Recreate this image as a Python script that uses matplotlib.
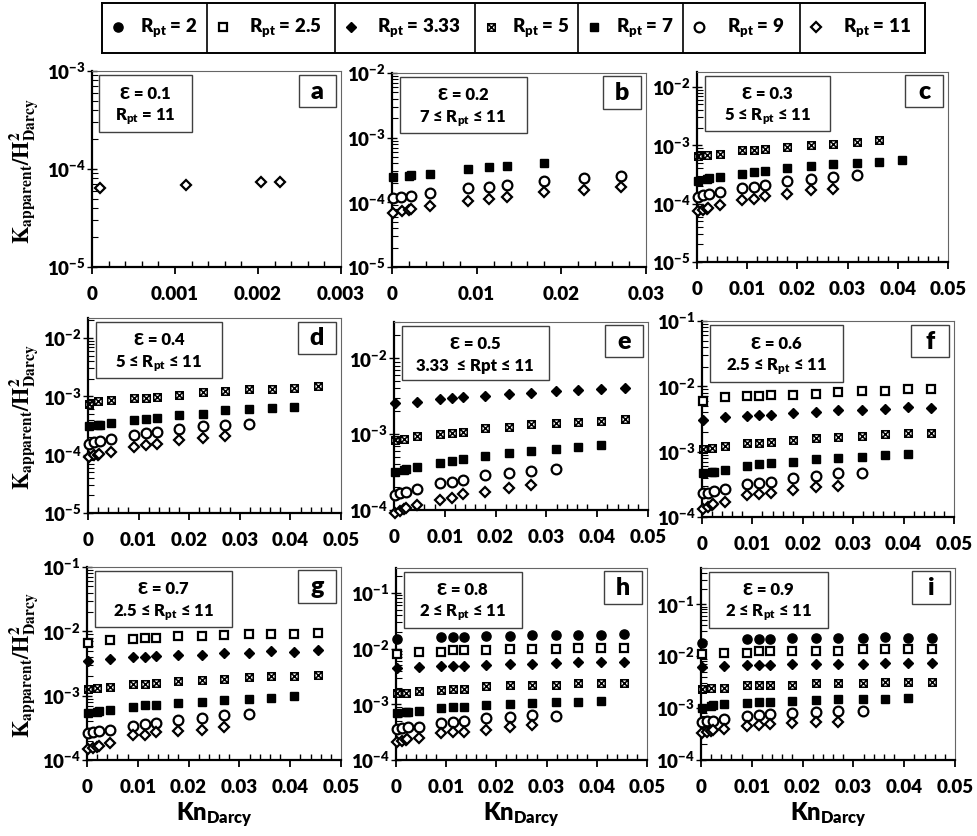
import matplotlib
matplotlib.use("Agg")
import numpy as np
import matplotlib.pyplot as plt
from matplotlib import ticker
from matplotlib.path import Path
from matplotlib.patches import Rectangle

plt.rcParams['font.family'] = ['Lato', 'DejaVu Sans']
plt.rcParams['font.weight'] = 'heavy'
plt.rcParams['mathtext.fontset'] = 'custom'
plt.rcParams['mathtext.rm'] = 'Lato:heavy'
plt.rcParams['mathtext.bf'] = 'Lato:heavy'
plt.rcParams['mathtext.it'] = 'Lato:heavy'
plt.rcParams['mathtext.fallback'] = 'stixsans'

# Kn_Darcy de cada serie (R_pt)
kn_r2 = [0.0001, 0.009, 0.0114, 0.0136, 0.018, 0.0227, 0.027, 0.0318, 0.0363, 0.0408, 0.0454]
kn_r25 = [0.0001, 0.0045, 0.009, 0.0114, 0.0136, 0.018, 0.0227, 0.027, 0.0318, 0.0363, 0.0408, 0.0454]
kn_r333 = [0.0001, 0.0045, 0.009, 0.0114, 0.0136, 0.018, 0.0227, 0.027, 0.0318, 0.0363, 0.0408, 0.0454]
kn_r5 = [0.0001, 0.002, 0.0045, 0.009, 0.0114, 0.0136, 0.018, 0.0227, 0.027, 0.0318, 0.0363, 0.0408, 0.0454]
kn_r7 = [0.0001, 0.002, 0.0023, 0.0045, 0.009, 0.0114, 0.0136, 0.018, 0.0227, 0.027, 0.0318, 0.0363, 0.0408]
kn_r9 = [0.0001, 0.0011, 0.0023, 0.0045, 0.009, 0.0114, 0.0136, 0.018, 0.0227, 0.027, 0.0318]
kn_r11 = [0.0001, 0.00113, 0.00204, 0.00227, 0.0045, 0.009, 0.0114, 0.0136, 0.018, 0.0227, 0.027]

# K_apparent / H^2 por panel
a_r11 = [6.4e-5, 6.8e-5, 7.3e-5, 7.3e-5]

b_r7 = [2.44e-4, 2.55e-4, 2.65e-4, 2.77e-4, 3.27e-4, 3.56e-4, 3.69e-4, 4.1e-4]
b_r9 = [1.15e-4, 1.22e-4, 1.27e-4, 1.38e-4, 1.69e-4, 1.75e-4, 1.85e-4, 2.14e-4, 2.35e-4, 2.55e-4]
b_r11 = [6.8e-5, 7.3e-5, 7.6e-5, 7.8e-5, 8.9e-5, 1.06e-4, 1.13e-4, 1.22e-4, 1.43e-4, 1.55e-4, 1.71e-4]

c_r5 = [6.6e-4, 6.8e-4, 7.2e-4, 8.2e-4, 8.4e-4, 8.8e-4, 9.4e-4, 1.01e-3, 1.07e-3, 1.14e-3, 1.22e-3]
c_r7 = [2.45e-4, 2.68e-4, 2.75e-4, 2.86e-4, 3.27e-4, 3.44e-4, 3.63e-4, 4.03e-4, 4.42e-4, 4.72e-4, 5.04e-4, 5.25e-4, 5.53e-4]
c_r9 = [1.30e-4, 1.39e-4, 1.45e-4, 1.58e-4, 1.86e-4, 1.93e-4, 2.12e-4, 2.42e-4, 2.68e-4, 2.86e-4, 3.06e-4]
c_r11 = [7.5e-5, 7.9e-5, 8.2e-5, 8.4e-5, 9.6e-5, 1.14e-4, 1.22e-4, 1.34e-4, 1.48e-4, 1.69e-4, 1.81e-4]

d_r5 = [7.5e-4, 8.2e-4, 8.5e-4, 9.4e-4, 9.4e-4, 9.7e-4, 1.07e-3, 1.19e-3, 1.23e-3, 1.32e-3, 1.35e-3, 1.41e-3, 1.48e-3]
d_r7 = [3.06e-4, 3.18e-4, 3.27e-4, 3.49e-4, 3.98e-4, 4.14e-4, 4.31e-4, 4.72e-4, 5.04e-4, 5.75e-4, 6.15e-4, 6.4e-4, 6.57e-4]
d_r9 = [1.55e-4, 1.65e-4, 1.71e-4, 1.83e-4, 2.14e-4, 2.35e-4, 2.45e-4, 2.79e-4, 3.06e-4, 3.27e-4, 3.4e-4]
d_r11 = [9.1e-5, 9.7e-5, 1.0e-4, 1.04e-4, 1.11e-4, 1.35e-4, 1.45e-4, 1.55e-4, 1.76e-4, 1.93e-4, 2.06e-4]

e_r333 = [2.54e-3, 2.67e-3, 2.86e-3, 2.95e-3, 3.11e-3, 3.2e-3, 3.37e-3, 3.51e-3, 3.69e-3, 3.8e-3, 3.92e-3, 4.08e-3]
e_r5 = [8.3e-4, 8.5e-4, 9.4e-4, 1.0e-3, 1.04e-3, 1.07e-3, 1.19e-3, 1.25e-3, 1.34e-3, 1.38e-3, 1.43e-3, 1.48e-3, 1.56e-3]
e_r7 = [3.18e-4, 3.35e-4, 3.45e-4, 3.7e-4, 4.19e-4, 4.45e-4, 4.63e-4, 5.17e-4, 5.56e-4, 5.97e-4, 6.28e-4, 6.81e-4, 7.16e-4]
e_r9 = [1.58e-4, 1.66e-4, 1.75e-4, 1.87e-4, 2.25e-4, 2.32e-4, 2.49e-4, 2.9e-4, 3.11e-4, 3.3e-4, 3.47e-4]
e_r11 = [9.2e-5, 9.8e-5, 1.02e-4, 1.05e-4, 1.16e-4, 1.36e-4, 1.43e-4, 1.63e-4, 1.75e-4, 1.93e-4, 2.14e-4]

f_r25 = [5.87e-3, 6.85e-3, 7.02e-3, 7.02e-3, 7.28e-3, 7.28e-3, 7.62e-3, 8.09e-3, 8.58e-3, 8.58e-3, 9.1e-3, 9.1e-3]
f_r333 = [3.07e-3, 3.45e-3, 3.54e-3, 3.67e-3, 3.67e-3, 3.89e-3, 4.08e-3, 4.27e-3, 4.38e-3, 4.53e-3, 4.75e-3, 4.64e-3]
f_r5 = [1.09e-3, 1.15e-3, 1.22e-3, 1.34e-3, 1.37e-3, 1.43e-3, 1.51e-3, 1.6e-3, 1.7e-3, 1.76e-3, 1.85e-3, 1.91e-3, 1.91e-3]
f_r7 = [4.64e-4, 4.92e-4, 4.92e-4, 5.22e-4, 6.02e-4, 6.38e-4, 6.62e-4, 7.02e-4, 7.62e-4, 7.89e-4, 8.37e-4, 8.89e-4, 9.1e-4]
f_r9 = [2.29e-4, 2.37e-4, 2.48e-4, 2.73e-4, 3.18e-4, 3.34e-4, 3.46e-4, 3.89e-4, 4.22e-4, 4.64e-4, 4.75e-4]
f_r11 = [1.34e-4, 1.43e-4, 1.51e-4, 1.57e-4, 1.70e-4, 2.15e-4, 2.23e-4, 2.34e-4, 2.57e-4, 2.9e-4, 2.97e-4]

g_r25 = [6.68e-3, 7.28e-3, 7.73e-3, 7.92e-3, 7.92e-3, 8.41e-3, 8.41e-3, 8.73e-3, 9.04e-3, 9.04e-3, 9.04e-3, 9.49e-3]
g_r333 = [3.52e-3, 3.65e-3, 3.98e-3, 3.98e-3, 4.07e-3, 4.23e-3, 4.33e-3, 4.6e-3, 4.6e-3, 4.89e-3, 4.77e-3, 5.19e-3]
g_r5 = [1.26e-3, 1.31e-3, 1.37e-3, 1.51e-3, 1.51e-3, 1.57e-3, 1.67e-3, 1.75e-3, 1.81e-3, 1.93e-3, 2.05e-3, 2.05e-3, 2.1e-3]
g_r7 = [5.3e-4, 5.56e-4, 5.77e-4, 5.9e-4, 6.66e-4, 7.08e-4, 7.08e-4, 7.8e-4, 8.09e-4, 8.49e-4, 8.8e-4, 9.12e-4, 9.93e-4]
g_r9 = [2.63e-4, 2.7e-4, 2.79e-4, 2.97e-4, 3.43e-4, 3.65e-4, 3.78e-4, 4.26e-4, 4.53e-4, 4.93e-4, 5.11e-4]
g_r11 = [1.47e-4, 1.53e-4, 1.62e-4, 1.68e-4, 1.87e-4, 2.48e-4, 2.48e-4, 2.7e-4, 2.79e-4, 2.97e-4, 3.27e-4]

h_r2 = [1.49e-2, 1.59e-2, 1.59e-2, 1.59e-2, 1.66e-2, 1.66e-2, 1.73e-2, 1.73e-2, 1.73e-2, 1.78e-2, 1.83e-2]
h_r25 = [8.09e-3, 8.67e-3, 8.67e-3, 9.55e-3, 9.55e-3, 9.55e-3, 9.82e-3, 9.82e-3, 9.82e-3, 1.02e-2, 1.02e-2, 1.02e-2]
h_r333 = [4.47e-3, 4.66e-3, 4.92e-3, 4.92e-3, 4.92e-3, 5.13e-3, 5.35e-3, 5.35e-3, 5.49e-3, 5.65e-3, 5.65e-3, 5.65e-3]
h_r5 = [1.58e-3, 1.58e-3, 1.7e-3, 1.77e-3, 1.87e-3, 1.87e-3, 2.09e-3, 2.18e-3, 2.24e-3, 2.24e-3, 2.4e-3, 2.4e-3, 2.4e-3]
h_r7 = [6.92e-4, 7.21e-4, 7.41e-4, 7.73e-4, 8.51e-4, 9.12e-4, 9.12e-4, 9.77e-4, 1.02e-3, 1.05e-3, 1.09e-3, 1.12e-3, 1.17e-3]
h_r9 = [3.56e-4, 3.72e-4, 3.87e-4, 3.98e-4, 4.7e-4, 4.9e-4, 5.03e-4, 5.62e-4, 6.03e-4, 6.46e-4, 6.19e-4]
h_r11 = [2.14e-4, 2.23e-4, 2.29e-4, 2.36e-4, 2.52e-4, 3.02e-4, 3.15e-4, 3.24e-4, 3.47e-4, 3.87e-4, 4.26e-4]

i_r2 = [1.82e-2, 2.12e-2, 2.12e-2, 2.18e-2, 2.21e-2, 2.21e-2, 2.21e-2, 2.21e-2, 2.35e-2, 2.28e-2, 2.28e-2]
i_r25 = [1.12e-2, 1.17e-2, 1.17e-2, 1.26e-2, 1.26e-2, 1.26e-2, 1.26e-2, 1.26e-2, 1.36e-2, 1.36e-2, 1.36e-2, 1.36e-2]
i_r333 = [6.2e-3, 6.49e-3, 6.68e-3, 6.68e-3, 6.68e-3, 6.98e-3, 6.98e-3, 6.98e-3, 6.98e-3, 7.52e-3, 7.52e-3, 7.52e-3]
i_r5 = [2.37e-3, 2.48e-3, 2.48e-3, 2.79e-3, 2.79e-3, 2.79e-3, 2.79e-3, 3.01e-3, 3.01e-3, 3.01e-3, 3.19e-3, 3.19e-3, 3.19e-3]
i_r7 = [1.02e-3, 1.1e-3, 1.13e-3, 1.18e-3, 1.24e-3, 1.31e-3, 1.31e-3, 1.37e-3, 1.44e-3, 1.48e-3, 1.48e-3, 1.52e-3, 1.59e-3]
i_r9 = [5.41e-4, 5.65e-4, 5.65e-4, 6.08e-4, 7.05e-4, 7.37e-4, 7.6e-4, 7.94e-4, 8.43e-4, 8.81e-4, 8.81e-4]
i_r11 = [3.36e-4, 3.52e-4, 3.63e-4, 3.73e-4, 4.02e-4, 4.53e-4, 4.67e-4, 4.88e-4, 5.25e-4, 5.41e-4, 5.41e-4]

series_order = ['2', '2.5', '3.33', '5', '7', '9', '11']
kn = {'2': kn_r2, '2.5': kn_r25, '3.33': kn_r333, '5': kn_r5, '7': kn_r7, '9': kn_r9, '11': kn_r11}

# cuadrado con X
box_x = Path([(-1, -1), (1, -1), (1, 1), (-1, 1), (-1, -1), (-1, -1), (1, 1), (1, -1), (-1, 1)],
             [Path.MOVETO, Path.LINETO, Path.LINETO, Path.LINETO, Path.CLOSEPOLY,
              Path.MOVETO, Path.LINETO, Path.MOVETO, Path.LINETO])

estilos = {
    '2': dict(marker='o', ms=6.6, mfc='black', mec='black', mew=1),
    '2.5': dict(marker='s', ms=6.2, mfc='white', mec='black', mew=1.6),
    '3.33': dict(marker='D', ms=4.9, mfc='black', mec='black', mew=1),
    '5': dict(marker=box_x, ms=5.4, mfc='none', mec='black', mew=1.1),
    '7': dict(marker='s', ms=6, mfc='black', mec='black', mew=1),
    '9': dict(marker='o', ms=7, mfc='white', mec='black', mew=1.6),
    '11': dict(marker='D', ms=5, mfc='white', mec='black', mew=1.6),
}

rpt = r'R$_{\mathbf{pt}}$'
paneles = [
    # letra, eps, rango, datos, rect(px), xmax, xmaj, xmin, ylim, borde derecho caja
    ('a', 'Ɛ = 0.1', rpt + ' = 11', {'11': a_r11}, (92, 341, 71, 267), 0.003, 0.001, 0.0002, (1e-5, 1e-3), 0.40),
    ('b', 'Ɛ = 0.2', '7 ≤ ' + rpt + ' ≤ 11', {'7': b_r7, '9': b_r9, '11': b_r11}, (392, 646, 73, 267), 0.03, 0.01, 0.002, (1e-5, 1e-2), 0.53),
    ('c', 'Ɛ = 0.3', '5 ≤ ' + rpt + ' ≤ 11', {'5': c_r5, '7': c_r7, '9': c_r9, '11': c_r11}, (697, 948, 72, 262), 0.05, 0.01, 0.002, (1e-5, 1.8e-2), 0.53),
    ('d', 'Ɛ = 0.4', '5 ≤ ' + rpt + ' ≤ 11', {'5': d_r5, '7': d_r7, '9': d_r9, '11': d_r11}, (88, 341, 318, 513), 0.05, 0.01, 0.002, (1e-5, 2.2e-2), 0.53),
    ('e', 'Ɛ = 0.5', '3.33  ≤ Rpt ≤ 11', {'3.33': e_r333, '5': e_r5, '7': e_r7, '9': e_r9, '11': e_r11}, (394, 648, 322, 510), 0.05, 0.01, 0.002, (1e-4, 3e-2), 0.61),
    ('f', 'Ɛ = 0.6', '2.5 ≤ ' + rpt + ' ≤ 11', {'2.5': f_r25, '3.33': f_r333, '5': f_r5, '7': f_r7, '9': f_r9, '11': f_r11}, (702, 954, 321, 517), 0.05, 0.01, 0.002, (1e-4, 1e-1), 0.56),
    ('g', 'Ɛ = 0.7', '2.5 ≤ ' + rpt + ' ≤ 11', {'2.5': g_r25, '3.33': g_r333, '5': g_r5, '7': g_r7, '9': g_r9, '11': g_r11}, (87, 341, 567, 760), 0.05, 0.01, 0.002, (1e-4, 1e-1), 0.57),
    ('h', 'Ɛ = 0.8', '2 ≤ ' + rpt + ' ≤ 11', {'2': h_r2, '2.5': h_r25, '3.33': h_r333, '5': h_r5, '7': h_r7, '9': h_r9, '11': h_r11}, (396, 647, 568, 760), 0.05, 0.01, 0.002, (1e-4, 0.28), 0.50),
    ('i', 'Ɛ = 0.9', '2 ≤ ' + rpt + ' ≤ 11', {'2': i_r2, '2.5': i_r25, '3.33': i_r333, '5': i_r5, '7': i_r7, '9': i_r9, '11': i_r11}, (701, 955, 568, 760), 0.05, 0.01, 0.002, (1e-4, 0.5), 0.50),
]

W, H = 978, 836
fig = plt.figure(figsize=(W / 100, H / 100), dpi=100)


def fmt_x(v, p):
    return '0' if abs(v) < 1e-12 else '%g' % v


def fmt_y(v, p):
    return r'$\mathbf{10^{%d}}$' % int(round(np.log10(v)))


for letra, eps, rango, datos, (x0, x1, y0, y1), xmax, xmaj, xmin, ylim, bx in paneles:
    ax = fig.add_axes([x0 / W, 1 - y1 / H, (x1 - x0) / W, (y1 - y0) / H])
    for r in series_order:
        if r in datos:
            vals = datos[r]
            ax.plot(kn[r][:len(vals)], vals, ls='none', zorder=3, clip_on=False, **estilos[r])
    ax.set_yscale('log')
    ax.set_xlim(0, xmax)
    ax.set_ylim(*ylim)
    ax.xaxis.set_major_locator(ticker.MultipleLocator(xmaj))
    ax.xaxis.set_minor_locator(ticker.MultipleLocator(xmin))
    ax.xaxis.set_major_formatter(ticker.FuncFormatter(fmt_x))
    ax.yaxis.set_major_locator(ticker.LogLocator(base=10, numticks=10))
    ax.yaxis.set_minor_locator(ticker.LogLocator(base=10, subs=np.arange(2, 10), numticks=10))
    ax.yaxis.set_major_formatter(ticker.FuncFormatter(fmt_y))
    ax.yaxis.set_minor_formatter(ticker.NullFormatter())
    ax.tick_params(axis='x', which='major', direction='out', length=5, width=1.3, labelsize=13.5, pad=9)
    ax.tick_params(axis='x', which='minor', direction='in', length=4, width=1.0)
    ax.tick_params(axis='y', which='major', direction='inout', length=7, width=1.0, labelsize=13.5, pad=1)
    ax.tick_params(axis='y', which='minor', direction='in', length=4, width=0.8)
    for s in ['left', 'bottom']:
        ax.spines[s].set_linewidth(1.6)
        ax.spines[s].set_color('black')
    for s in ['top', 'right']:
        ax.spines[s].set_linewidth(0.8)
        ax.spines[s].set_color('#666666')

    # caja de texto principal
    ax.add_patch(Rectangle((0.03, 0.69), bx - 0.03, 0.29, transform=ax.transAxes,
                           facecolor='white', edgecolor='#404040', lw=1, zorder=5))
    cx = (0.03 + bx) / 2
    ax.text(cx, 0.885, eps, transform=ax.transAxes, ha='center', va='center', fontsize=12, zorder=6)
    ax.text(cx, 0.765, rango, transform=ax.transAxes, ha='center', va='center', fontsize=12, zorder=6)
    # caja con la letra
    ax.add_patch(Rectangle((0.83, 0.815), 0.15, 0.167, transform=ax.transAxes,
                           facecolor='white', edgecolor='#404040', lw=1, zorder=5))
    ax.text(0.905, 0.895, letra, transform=ax.transAxes, ha='center', va='center', fontsize=18, zorder=6)

    if letra in 'ghi':
        ax.set_xlabel(r'$\mathbf{Kn_{Darcy}}$', fontsize=17, labelpad=3)
    if letra in 'adg':
        yc = 1 - ((y0 + y1) / 2 + 2) / H
        fig.text(24 / W, yc, r'$\mathbf{K_{apparent}/H^{2}_{Darcy}}$', rotation=90,
                 fontsize=16, math_fontfamily='stix', ha='center', va='center')

# leyenda tipo tabla
celdas = [102, 207, 335, 475, 578, 683, 800, 925]
lax = fig.add_axes([celdas[0] / W, 1 - 53 / H, (celdas[-1] - celdas[0]) / W, 50 / H])
lax.set_xlim(celdas[0], celdas[-1])
lax.set_ylim(0, 1)
lax.set_xticks([])
lax.set_yticks([])
for s in lax.spines.values():
    s.set_linewidth(1.4)
    s.set_color('black')
for c in celdas[1:-1]:
    lax.axvline(c, color='black', lw=1.2)
for k, r in enumerate(series_order):
    left, right = celdas[k], celdas[k + 1]
    lax.plot([left + 16], [0.52], ls='none', clip_on=False, **estilos[r])
    lax.text((left + 28 + right) / 2, 0.5, rpt + ' = ' + r, ha='center', va='center', fontsize=13.5)

fig.savefig('out.png', dpi=100, facecolor='white')
